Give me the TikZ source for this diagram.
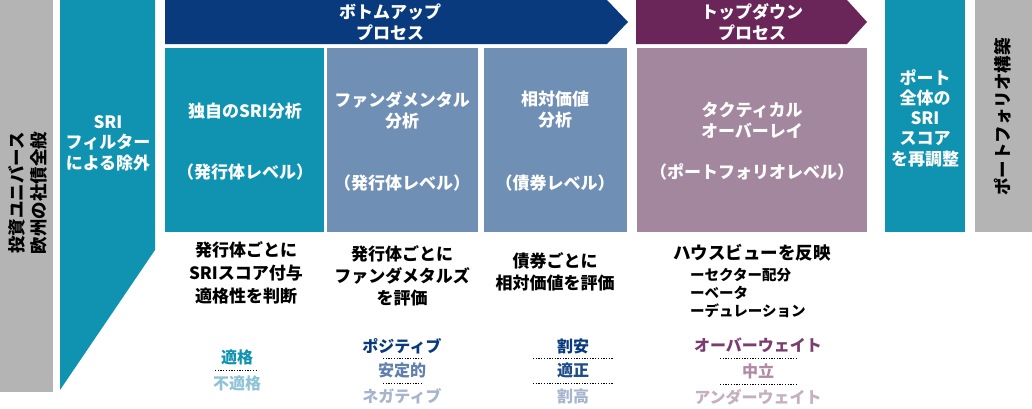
\documentclass[tikz,border=0pt]{standalone}
\usepackage{fontspec}
\setmainfont{Noto Sans CJK JP}
\definecolor{greyc}{HTML}{B4B4B4}
\definecolor{tealc}{HTML}{0F93B1}
\definecolor{navyc}{HTML}{0A3A7E}
\definecolor{steelc}{HTML}{708FB5}
\definecolor{plumc}{HTML}{6A2559}
\definecolor{mauvec}{HTML}{A3879E}
\definecolor{teallt}{HTML}{8FC3D6}
\definecolor{steeldk}{HTML}{5F80AE}
\definecolor{steellt}{HTML}{A6B5CC}
\definecolor{plumdk}{HTML}{7A3D6D}
\definecolor{plummd}{HTML}{B08AA5}
\definecolor{plumlt}{HTML}{C4B0BE}
\tikzset{
  txt/.style={inner sep=0pt, align=center, font=\fontsize{17}{21}\selectfont\bfseries},
  wtxt/.style={txt, text=white},
  rate/.style={inner sep=0pt, align=center, font=\fontsize{16}{20}\selectfont\bfseries},
  listtxt/.style={inner sep=0pt, anchor=west, font=\fontsize{14.5}{18}\selectfont\bfseries},
  panel/.style={inner sep=0pt, anchor=north west, draw=none},
  dotline/.style={black, line width=1pt, dash pattern=on 1.3pt off 1.4pt}
}
\begin{document}
\begin{tikzpicture}[x=1pt,y=-1pt]
\path[use as bounding box, fill=white] (0,0) rectangle (1032,408);
% left grey column
\node[panel, fill=greyc, minimum width=53pt, minimum height=392pt] (univ) at (0,0) {};
\node[txt, rotate=90, font=\fontsize{17.5}{22}\selectfont\bfseries] (univt) at (28,193) {投資ユニバース\\欧州の社債全般};
% SRI filter
\fill[tealc] (60,0) -- (155,0) -- (155,250) -- (60,390) -- cycle;
\node[wtxt, font=\fontsize{17}{20.5}\selectfont\bfseries] (filt) at (108,143) {SRI\\フィルター\\による除外};
% process arrows
\fill[navyc] (165,0) -- (607,0) -- (628,22) -- (607,44) -- (165,44) -- cycle;
\node[wtxt] (bu) at (390,22) {ボトムアップ\\プロセス};
\fill[plumc] (636,0) -- (847,0) -- (867,22) -- (847,44) -- (636,44) -- cycle;
\node[wtxt] (td) at (752,22) {トップダウン\\プロセス};
% boxes
\node[panel, fill=tealc, minimum width=159pt, minimum height=184pt] (b1) at (165,48) {};
\node[panel, fill=steelc, minimum width=151pt, minimum height=184pt] (b2) at (327,48) {};
\node[panel, fill=steelc, minimum width=143pt, minimum height=184pt] (b3) at (484,48) {};
\node[panel, fill=mauvec, minimum width=230pt, minimum height=184pt] (b4) at (637,48) {};
\node[panel, fill=tealc, minimum width=80pt, minimum height=232pt] (b5) at (885,0) {};
\node[panel, fill=greyc, minimum width=57pt, minimum height=232pt] (b6) at (975,0) {};
% box texts
\node[wtxt] (b1a) at (245,111) {独自のSRI分析};
\node[wtxt] (b1b) at (245,172) {（発行体レベル）};
\node[wtxt] (b2a) at (402,110) {ファンダメンタル\\分析};
\node[wtxt] (b2b) at (402,183) {（発行体レベル）};
\node[wtxt] (b3a) at (555,110) {相対価値\\分析};
\node[wtxt] (b3b) at (555,183) {（債券レベル）};
\node[wtxt] (b4a) at (752,120) {タクティカル\\オーバーレイ};
\node[wtxt] (b4b) at (752,172) {（ポートフォリオレベル）};
\node[wtxt, font=\fontsize{17}{20.3}\selectfont\bfseries] (b5t) at (925,118) {ポート\\全体の\\SRI\\スコア\\を再調整};
\node[txt, rotate=90, font=\fontsize{17.5}{22}\selectfont\bfseries] (b6t) at (1003,117) {ポートフォリオ構築};
% descriptions
\node[txt, font=\fontsize{17}{23}\selectfont\bfseries] (d1) at (246,273) {発行体ごとに\\SRIスコア付与\\適格性を判断};
\node[txt, font=\fontsize{17}{22}\selectfont\bfseries] (d2) at (402,276) {発行体ごとに\\ファンダメタルズ\\を評価};
\node[txt, font=\fontsize{17}{22}\selectfont\bfseries] (d3) at (555,272) {債券ごとに\\相対価値を評価};
\node[txt, font=\fontsize{17.5}{22}\selectfont\bfseries] (d4) at (752,253) {ハウスビューを反映};
\node[listtxt] (d4a) at (690,275) {ーセクター配分};
\node[listtxt] (d4b) at (690,293) {ーベータ};
\node[listtxt] (d4c) at (690,311) {ーデュレーション};
% ratings
\node[rate, text=tealc] (r1a) at (237,357) {適格};
\coordinate (r1l) at (215,370); \coordinate (r1r) at (258,370);
\draw[dotline] (r1l) -- (r1r);
\node[rate, text=teallt] (r1b) at (237,383) {不適格};
\node[rate, text=navyc] (r2a) at (402,346) {ポジティブ};
\coordinate (r2l1) at (383,358); \coordinate (r2r1) at (423,358);
\draw[dotline] (r2l1) -- (r2r1);
\node[rate, text=steeldk] (r2b) at (402,370) {安定的};
\coordinate (r2l2) at (383,383); \coordinate (r2r2) at (423,383);
\draw[dotline] (r2l2) -- (r2r2);
\node[rate, text=steellt] (r2c) at (402,396) {ネガティブ};
\node[rate, text=navyc] (r3a) at (573,346) {割安};
\coordinate (r3l1) at (533,358); \coordinate (r3r1) at (613,358);
\draw[dotline] (r3l1) -- (r3r1);
\node[rate, text=navyc!80!steelc] (r3b) at (573,370) {適正};
\coordinate (r3l2) at (533,383); \coordinate (r3r2) at (613,383);
\draw[dotline] (r3l2) -- (r3r2);
\node[rate, text=steellt] (r3c) at (573,396) {割高};
\node[rate, text=plumdk] (r4a) at (758,345) {オーバーウェイト};
\coordinate (r4l1) at (720,358); \coordinate (r4r1) at (798,358);
\draw[dotline] (r4l1) -- (r4r1);
\node[rate, text=plummd] (r4b) at (758,371) {中立};
\coordinate (r4l2) at (720,384); \coordinate (r4r2) at (798,384);
\draw[dotline] (r4l2) -- (r4r2);
\node[rate, text=plumlt] (r4c) at (758,397) {アンダーウェイト};
\end{tikzpicture}
\end{document}
